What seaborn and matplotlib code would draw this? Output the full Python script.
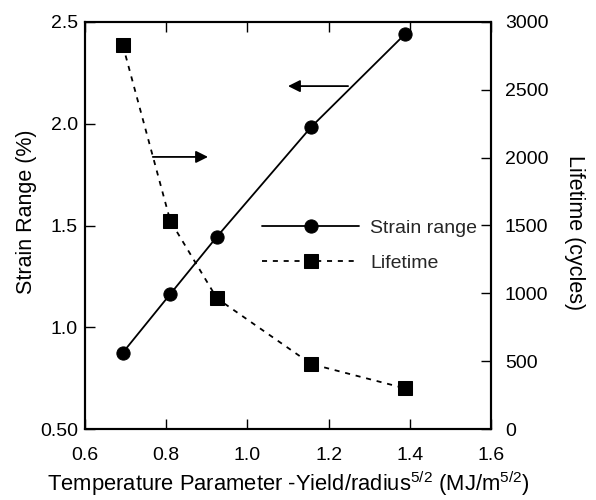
import matplotlib
matplotlib.use("Agg")
import matplotlib.pyplot as plt
import seaborn as sns
import pandas as pd

# Temperature parameter values and measured responses
temp_param = [0.693, 0.810, 0.925, 1.157, 1.388]
strain_range = [0.875, 1.163, 1.445, 1.984, 2.440]
lifetime = [2830, 1535, 963, 479, 300]

x_ticks = [0.6, 0.8, 1.0, 1.2, 1.4, 1.6]
strain_ticks = [0.5, 1.0, 1.5, 2.0, 2.5]
strain_tick_labels = ["0.50", "1.0", "1.5", "2.0", "2.5"]
life_ticks = [0, 500, 1000, 1500, 2000, 2500, 3000]

sns.set_theme(style="ticks")
plt.rcParams["font.family"] = ["Liberation Sans", "DejaVu Sans"]
plt.rcParams["mathtext.default"] = "regular"

df = pd.DataFrame({"T": temp_param, "strain": strain_range, "life": lifetime})

fig = plt.figure(figsize=(5.96, 5.0), dpi=100)
ax = fig.add_axes([85 / 596, 1 - 429 / 500, 406 / 596, 407 / 500])
ax2 = ax.twinx()

sns.lineplot(data=df, x="T", y="strain", ax=ax, color="black", lw=1.3,
             marker="o", markersize=9.5, markeredgecolor="black",
             label="Strain range", legend=False)
sns.lineplot(data=df, x="T", y="life", ax=ax2, color="black", lw=1.3,
             marker="s", markersize=9.5, markeredgecolor="black",
             label="Lifetime", legend=False)
ax2.lines[0].set_dashes((2.8, 3.2))

fs = 14
ax.set_xlim(0.6, 1.6)
ax.set_ylim(0.5, 2.5)
ax2.set_ylim(0, 3000)
ax.set_xticks(x_ticks)
ax.set_xticklabels([f"{v:.1f}" for v in x_ticks], fontsize=fs)
ax.set_yticks(strain_ticks)
ax.set_yticklabels(strain_tick_labels, fontsize=fs)
ax2.set_yticks(life_ticks)
ax2.set_yticklabels([str(v) for v in life_ticks], fontsize=fs)

ax.tick_params(axis="x", direction="in", length=7, width=1, top=True, pad=13, colors="black")
ax.tick_params(axis="y", direction="in", length=7, width=1, pad=5, colors="black")
ax2.tick_params(axis="y", direction="in", length=7, width=1, pad=10, colors="black")

for a in (ax, ax2):
    for s in a.spines.values():
        s.set_visible(True)
        s.set_linewidth(1.5)
        s.set_color("black")

ax.set_xlabel("Temperature Parameter -Yield/radius$^{5/2}$ (MJ/m$^{5/2}$)",
              fontsize=15.8, labelpad=4, color="black")
ax.set_ylabel("Strain Range (%)", fontsize=15.5, labelpad=2, color="black")
ax.yaxis.label.set_y(0.533)
ax2.set_ylabel("Lifetime (cycles)", fontsize=15.5, rotation=270, labelpad=26, color="black")
ax2.yaxis.label.set_y(0.482)

# Arrows pointing each curve to its own axis
ax.annotate("", xy=(1.10, 2.185), xytext=(1.248, 2.185),
            arrowprops=dict(arrowstyle="-|>", color="black", lw=1.3,
                            mutation_scale=18, shrinkA=0, shrinkB=0))
ax.annotate("", xy=(0.903, 1.837), xytext=(0.767, 1.837),
            arrowprops=dict(arrowstyle="-|>", color="black", lw=1.3,
                            mutation_scale=18, shrinkA=0, shrinkB=0))

handles = ax.lines[:1] + ax2.lines[:1]
leg = ax2.legend(handles, ["Strain range", "Lifetime"], loc="upper left",
                 bbox_to_anchor=(0.436, 0.516), frameon=False, fontsize=fs,
                 handlelength=5.0, handletextpad=0.55, labelspacing=0.9,
                 borderpad=0, borderaxespad=0)

fig.savefig("out.png", dpi=100)
